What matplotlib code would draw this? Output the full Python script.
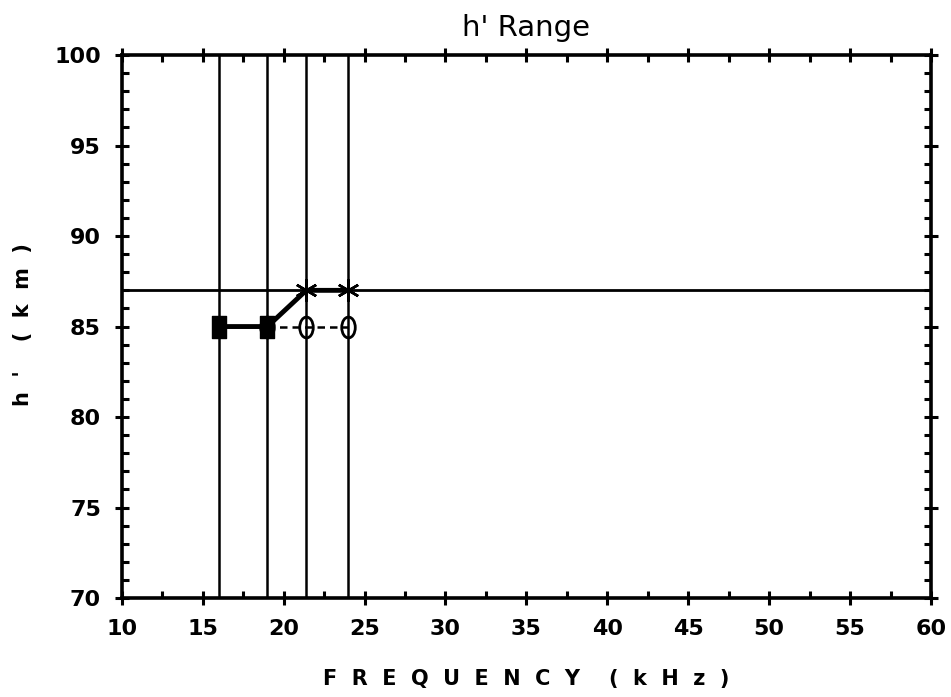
import numpy as np
import matplotlib
matplotlib.use("Agg")
import matplotlib.pyplot as plt
from matplotlib.path import Path
from matplotlib.transforms import Affine2D
from matplotlib.ticker import MultipleLocator

# Transmitter frequencies (kHz) and fitted reference heights h' (km)
FREQ = [16.0, 19.0, 21.4, 24.0]
H_DAY = [85, 85, 87, 87]          # solid trace, asterisk markers
FREQ_ALT = [19.0, 21.4, 24.0]
H_ALT = [85, 85, 85]              # dashed trace, open markers
H_REF = 87                        # horizontal reference height

plt.rcParams["font.family"] = "DejaVu Sans"

# tall open ellipse, like a plotted "0", and a tall filled block
oval = Affine2D().scale(0.65, 1.0).transform_path(Path.unit_circle())
box = Affine2D().translate(-0.5, -0.5).scale(0.6, 1.0).transform_path(
    Path.unit_rectangle())

fig = plt.figure(figsize=(9.51, 6.97), dpi=100)
ax = fig.add_axes([0.128, 0.142, 0.851, 0.779])

# vertical lines at each frequency
for f in FREQ:
    ax.axvline(f, color="black", lw=1.8)
ax.axhline(H_REF, color="black", lw=2.0)

ax.plot(FREQ_ALT, H_ALT, color="black", lw=1.8, ls=(0, (3, 2)),
        marker=oval, ms=15, mfc="none", mec="black", mew=2.0)
ax.plot(FREQ, H_DAY, color="black", lw=3.5,
        marker=(6, 2, 0), ms=16, mew=1.8, markevery=[2, 3])
ax.plot(FREQ[:2], H_DAY[:2], ls="none", marker=box, ms=16,
        mfc="black", mec="black")

ax.set_xlim(10, 60)
ax.set_ylim(70, 100)
ax.xaxis.set_major_locator(MultipleLocator(5))
ax.xaxis.set_minor_locator(MultipleLocator(2.5))
ax.yaxis.set_major_locator(MultipleLocator(5))
ax.yaxis.set_minor_locator(MultipleLocator(1))
ax.tick_params(which="major", direction="inout", length=10, width=2.2,
               top=True, right=True, labelsize=16, pad=10)
ax.tick_params(which="minor", direction="in", length=5, width=2.2,
               top=True, right=True)
for lab in ax.get_xticklabels() + ax.get_yticklabels():
    lab.set_fontweight("bold")
for s in ax.spines.values():
    s.set_linewidth(2.6)

ax.set_title("h' Range", fontsize=21, pad=14)
ax.set_xlabel("F  R  E  Q  U  E  N  C  Y    (  k  H  z  )", fontsize=15,
              fontweight="bold", labelpad=22)
fig.text(0.024, 0.535, "h  '    (  k  m  )", rotation=90, fontsize=15,
         fontweight="bold", ha="center", va="center")

fig.savefig("out.png", dpi=100)
